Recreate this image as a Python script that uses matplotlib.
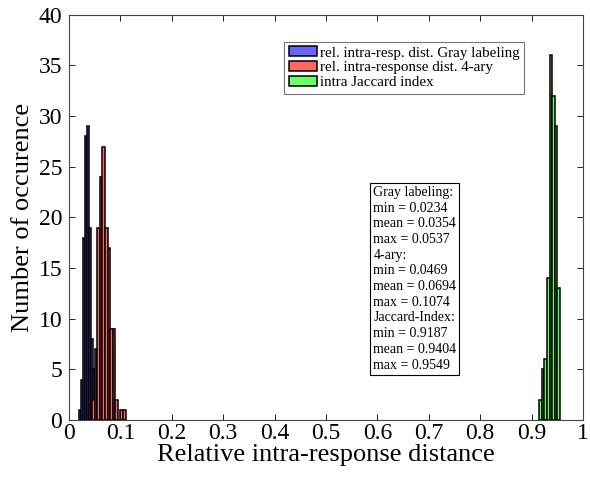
import numpy as np
import matplotlib
matplotlib.use("Agg")
import matplotlib.pyplot as plt

plt.rcParams['font.family'] = ['Liberation Serif', 'DejaVu Serif']

# histogram bins
gray_start, gray_width = 0.019, 0.0039
gray_counts = [1, 4, 18, 28, 29, 19, 8, 5, 2]

quat_start, quat_width = 0.045, 0.005
quat_counts = [2, 7, 19, 24, 27, 19, 17, 9, 9, 2, 0, 1, 1]

jac_start, jac_width = 0.915, 0.005
jac_counts = [2, 5, 6, 14, 36, 32, 29, 13]

labels = ['rel. intra-resp. dist. Gray labeling',
          'rel. intra-response dist. 4-ary',
          'intra Jaccard index']
colors = ['#6666ff', '#ff6666', '#66ff66']

stats_text = ("Gray labeling:\nmin = 0.0234\nmean = 0.0354\nmax = 0.0537\n"
              "4-ary:\nmin = 0.0469\nmean = 0.0694\nmax = 0.1074\n"
              "Jaccard-Index:\nmin = 0.9187\nmean = 0.9404\nmax = 0.9549")

fig = plt.figure(figsize=(5.9, 4.78), dpi=100)
ax = fig.add_axes([0.117, 0.121, 0.871, 0.848])

series = [(gray_start, gray_width, gray_counts),
          (quat_start, quat_width, quat_counts),
          (jac_start, jac_width, jac_counts)]
for (start, width, counts), lab, col in zip(series, labels, colors):
    edges = start + width * np.arange(len(counts))
    ax.bar(edges, counts, width=width, align='edge', color=col,
           edgecolor='black', linewidth=1.1, label=lab)

ax.set_xlim(0, 1)
ax.set_ylim(0, 40)
ax.set_xticks(np.arange(0, 1.01, 0.1))
ax.set_xticklabels(['0', '0.1', '0.2', '0.3', '0.4', '0.5', '0.6', '0.7', '0.8', '0.9', '1'])
ax.set_yticks(np.arange(0, 41, 5))
ax.tick_params(direction='in', top=True, right=True, labelsize=17, length=4, width=0.6)
ax.tick_params(axis='y', pad=5)
ax.tick_params(axis='x', pad=2)
for s in ax.spines.values():
    s.set_linewidth(0.8)
    s.set_color('#444444')

ax.set_xlabel('Relative intra-response distance', fontsize=19, labelpad=0)
ax.set_ylabel('Number of occurence', fontsize=19, labelpad=3)

leg = ax.legend(loc='upper left', bbox_to_anchor=(0.419, 0.933), fontsize=10.8,
                fancybox=False, edgecolor='#555555', handlelength=1.85,
                handleheight=0.6, handletextpad=0.2, borderpad=0.3,
                labelspacing=0.12, borderaxespad=0)
leg.get_frame().set_linewidth(0.8)

ax.text(0.592, 0.349, stats_text, transform=ax.transAxes, fontsize=10,
        va='center', ha='left', linespacing=1.27,
        bbox=dict(boxstyle='square,pad=0.22', facecolor='white', edgecolor='black', linewidth=0.8))

fig.savefig('out.png', dpi=100)
